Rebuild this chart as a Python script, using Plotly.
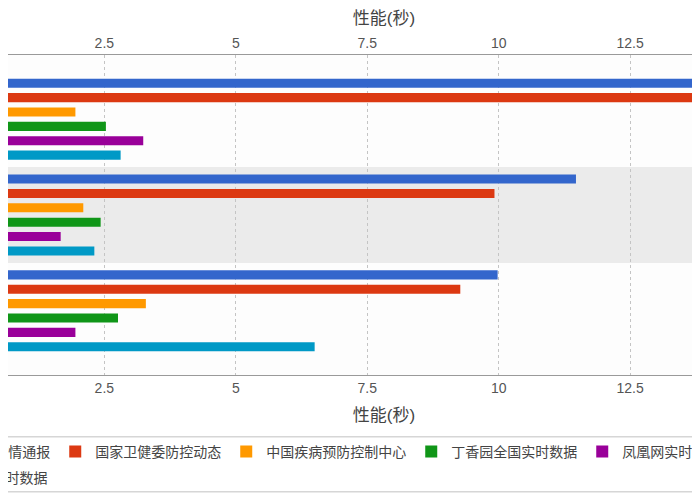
import plotly.graph_objects as go

#Chart data
categories = ['首页加载', '数据查询', '地图渲染']
sources = ['国务院疫情通报', '国家卫健委防控动态', '中国疾病预防控制中心',
           '丁香园全国实时数据', '凤凰网实时数据', '腾讯新闻实时数据']
colors = ['#3366cc', '#dc3912', '#ff9900', '#109618', '#990099', '#0099c6']
seconds = [
    [14.9, 11.47, 9.98],
    [14.7, 9.92, 9.27],
    [1.95, 2.10, 3.29],
    [2.53, 2.43, 2.76],
    [3.24, 1.67, 1.95],
    [2.81, 2.31, 6.50],
]
tick_vals = [2.5, 5, 7.5, 10, 12.5, 15]
tick_text = ['2.5', '5', '7.5', '10', '12.5', '15']
axis_title = '性能(秒)'

font = 'Liberation Sans, Noto Sans CJK SC'
fig = go.Figure()

#One horizontal bar trace per source
for i, name in enumerate(sources):
    trace = go.Bar(y=categories,
                   x=seconds[i],
                   orientation='h',
                   name=name,
                   marker_color=colors[i],
                   marker_line_width=0,
                   legend='legend' if i < 5 else 'legend2')
    fig.add_trace(trace)

#Mirror axis on top (no data, just the scale)
fig.add_trace(go.Bar(y=categories, x=[None]*3, orientation='h',
                     xaxis='x2', showlegend=False, hoverinfo='skip'))

axis_style = dict(
    tickvals=tick_vals,
    ticktext=tick_text,
    range=[0.668, 14.97],
    domain=[0, 752/840],
    showline=True,
    linecolor='#9a9a9a',
    linewidth=1,
    showgrid=True,
    gridcolor='#c4c4c4',
    griddash='dot',
    zeroline=False,
    ticks='',
    tickfont=dict(size=14, color='#555555'),
)
title_font = dict(size=17, color='#444444')
fig.update_layout(xaxis=dict(axis_style,
                             title=dict(text=axis_title, font=title_font,
                                        standoff=14)))
fig.update_layout(xaxis2=dict(axis_style, overlaying='x', side='top',
                              matches='x', showgrid=False,
                              title=dict(text=axis_title, font=title_font,
                                         standoff=6)))

fig.update_yaxes(range=[2.67, -0.67],
                 showgrid=False,
                 showticklabels=False,
                 zeroline=False)

#Gray band behind the middle group
fig.add_shape(type='rect', xref='paper', yref='y',
              x0=0, x1=1, y0=0.5, y1=1.5,
              fillcolor='#ebebeb', line_width=0, layer='below')

#Box around both legend rows
fig.add_shape(type='rect', xref='paper', yref='paper',
              x0=-0.3, x1=1.3, y0=-0.193, y1=-0.365,
              line=dict(color='#d6d6d6', width=1.5), fillcolor='rgba(0,0,0,0)')

legend_font = dict(size=14, color='#444444')
fig.update_layout(
    width=840,
    height=500,
    margin=dict(l=0, r=0, t=47, b=133, autoexpand=False),
    paper_bgcolor='white',
    plot_bgcolor='#fdfdfd',
    font=dict(family=font),
    barmode='group',
    bargap=0.1,
    bargroupgap=0.37,
    legend=dict(orientation='h', x=-0.114, xanchor='left',
                y=-0.19, yanchor='top', font=legend_font,
                bgcolor='rgba(0,0,0,0)'),
    legend2=dict(orientation='h', x=-0.134, xanchor='left',
                 y=-0.271, yanchor='top', font=legend_font,
                 bgcolor='rgba(0,0,0,0)'),
)

fig.write_html("out.html")
